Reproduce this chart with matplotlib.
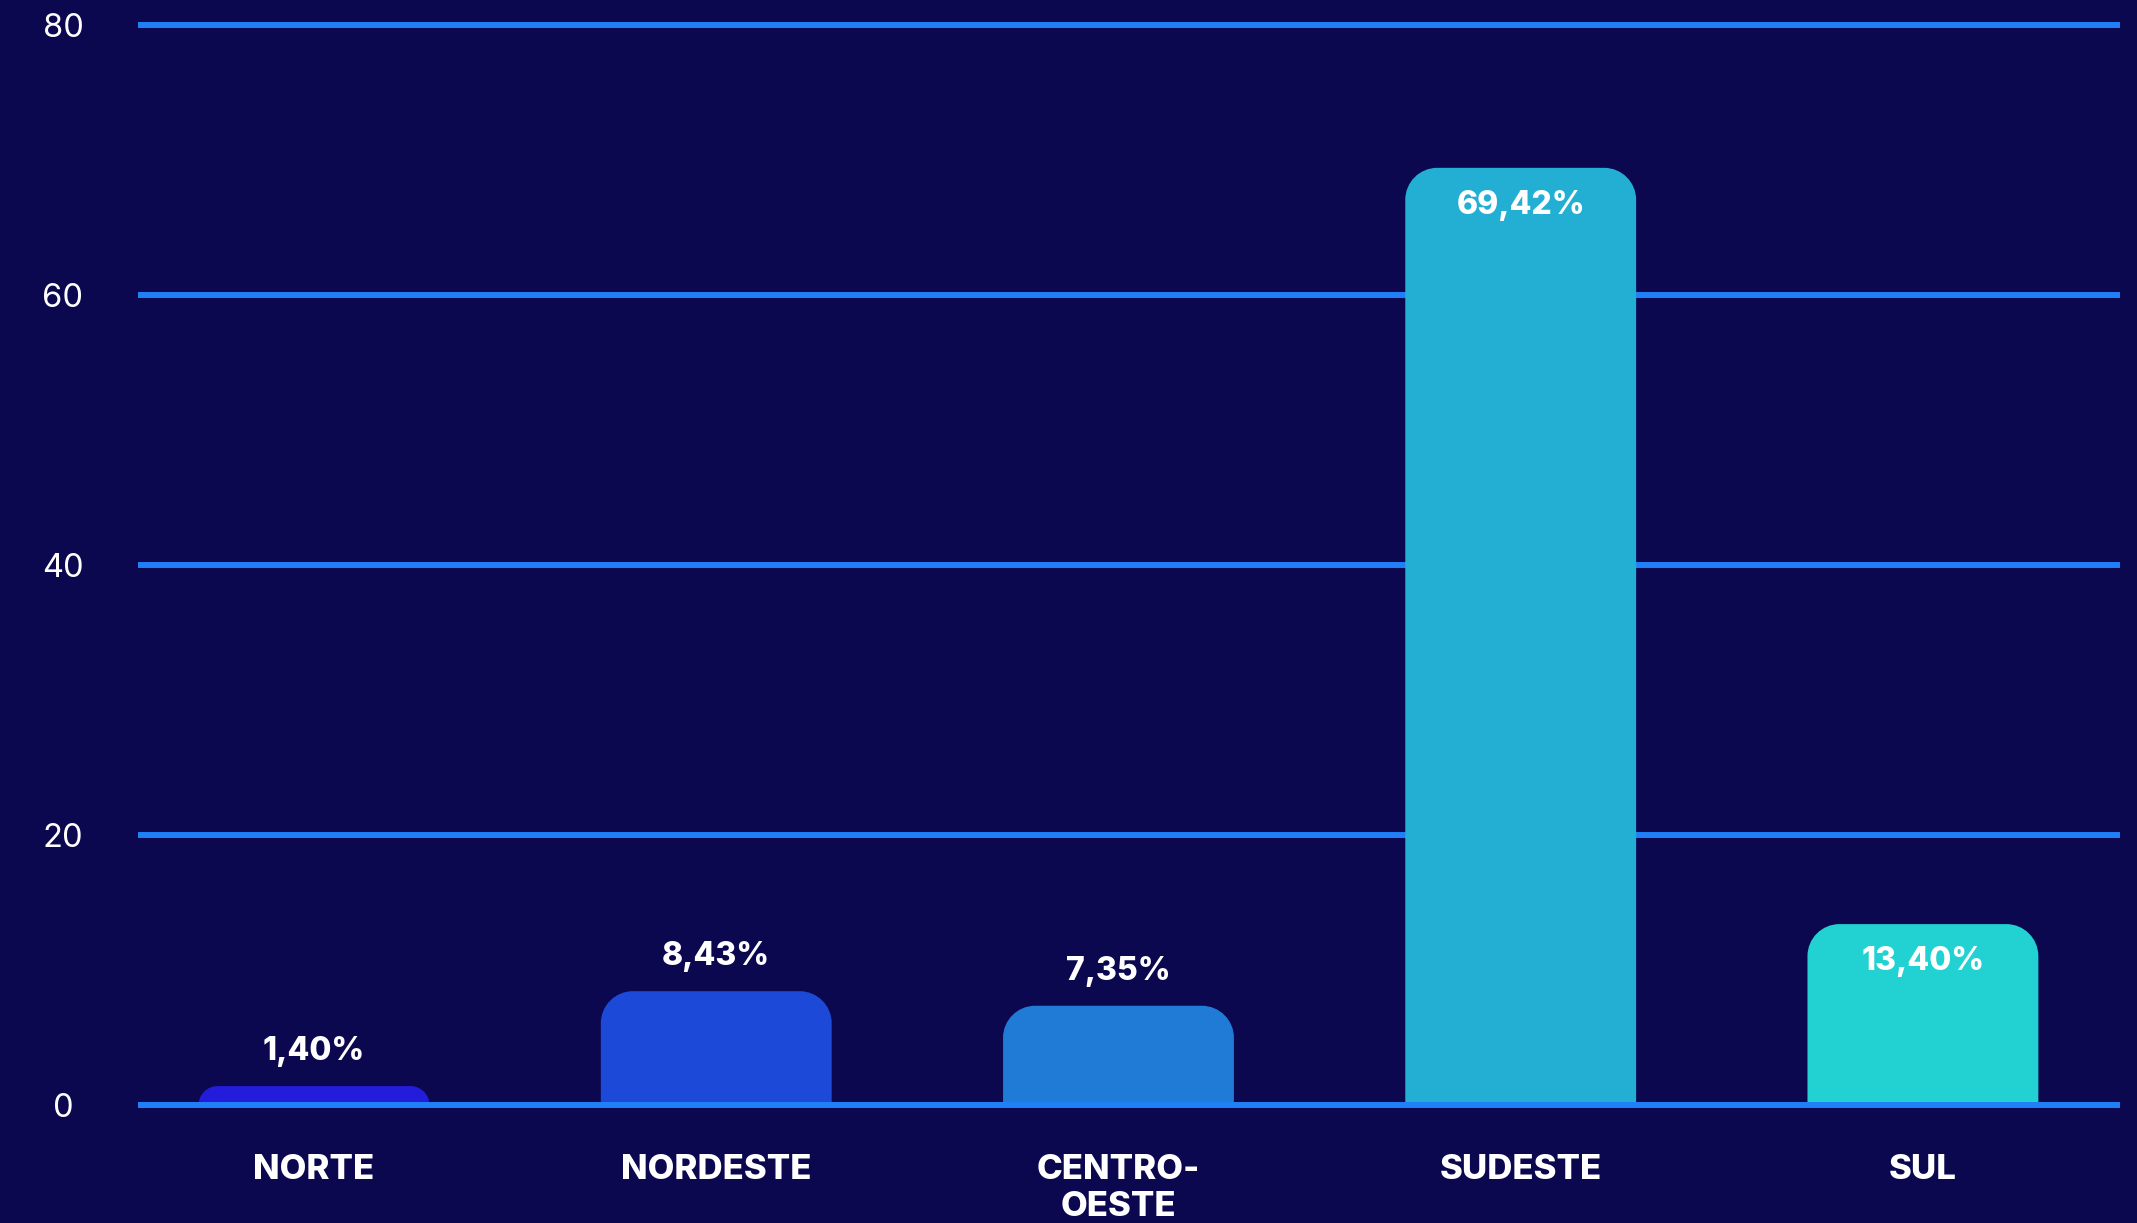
import matplotlib.pyplot as plt
from matplotlib.path import Path
from matplotlib.patches import PathPatch

regioes = ['NORTE', 'NORDESTE', 'CENTRO-\nOESTE', 'SUDESTE', 'SUL']
valores = [1.40, 8.43, 7.35, 69.42, 13.40]
cores = ['#231ddb', '#1d49d9', '#1f7bd5', '#23afd4', '#22d2d2']
yticks = [0, 20, 40, 60, 80]

fundo = '#0c0850'
linha = '#2080f8'

plt.rcParams['font.family'] = ['Inter', 'DejaVu Sans']

W, H, dpi = 21.37, 12.23, 100
fig = plt.figure(figsize=(W, H), dpi=dpi, facecolor=fundo)
# eixo: x de 138 a 2120 px, y=0 em 1105 px, y=80 em 25 px
ax_l, ax_r = 138, 2120
ax_b, ax_t = 1118.5, 11.5
ax = fig.add_axes([ax_l / 2137, (1223 - ax_b) / 1223, (ax_r - ax_l) / 2137, (ax_b - ax_t) / 1223])
ax.set_facecolor(fundo)

xlim = (-0.4377, 4.490)
ylim = (-1, 81)
ax.set_xlim(xlim)
ax.set_ylim(ylim)

for t in yticks:
    ax.axhline(t, color=linha, lw=4.3, zorder=3 if t == 0 else 0)

x = range(len(regioes))
bars = ax.bar(x, valores, width=0.574, color=cores, zorder=2)

# cantos arredondados no topo (raio em pixels)
px_x = (ax_r - ax_l) / (xlim[1] - xlim[0])
px_y = (ax_b - ax_t) / (ylim[1] - ylim[0])
k = 0.5523
for b in bars:
    x0 = b.get_x()
    x1 = x0 + b.get_width()
    h = b.get_height()
    r = min(32, h * px_y)
    rx, ry = r / px_x, r / px_y
    verts = [(x0, 0), (x0, h - ry),
             (x0, h - ry + k * ry), (x0 + rx - k * rx, h), (x0 + rx, h),
             (x1 - rx, h),
             (x1 - rx + k * rx, h), (x1, h - ry + k * ry), (x1, h - ry),
             (x1, 0), (x0, 0)]
    codes = [Path.MOVETO, Path.LINETO,
             Path.CURVE4, Path.CURVE4, Path.CURVE4,
             Path.LINETO,
             Path.CURVE4, Path.CURVE4, Path.CURVE4,
             Path.LINETO, Path.CLOSEPOLY]
    ax.add_patch(PathPatch(Path(verts, codes), facecolor=b.get_facecolor(), edgecolor='none', zorder=2))
    b.set_visible(False)

for i, v in enumerate(valores):
    txt = ('%.2f%%' % v).replace('.', ',')
    dy = -27 if v > 10 else 25
    ax.annotate(txt, (i, v), xytext=(0, dy), textcoords='offset points',
                ha='center', va='center', color='white', fontsize=23, fontweight='heavy', zorder=4)
    ax.annotate(regioes[i], (i, 0), xytext=(0, -35), textcoords='offset points',
                ha='center', va='top', color='white', fontsize=25, fontweight='heavy',
                linespacing=1.2, annotation_clip=False)

ax.set_xticks([])
ax.set_yticks(yticks)
ax.tick_params(axis='y', length=0, pad=54, labelsize=23.5, labelcolor='white')
for lab in ax.get_yticklabels():
    lab.set_ha('center')
for s in ax.spines.values():
    s.set_visible(False)

fig.savefig('out.png', dpi=dpi, facecolor=fundo)
